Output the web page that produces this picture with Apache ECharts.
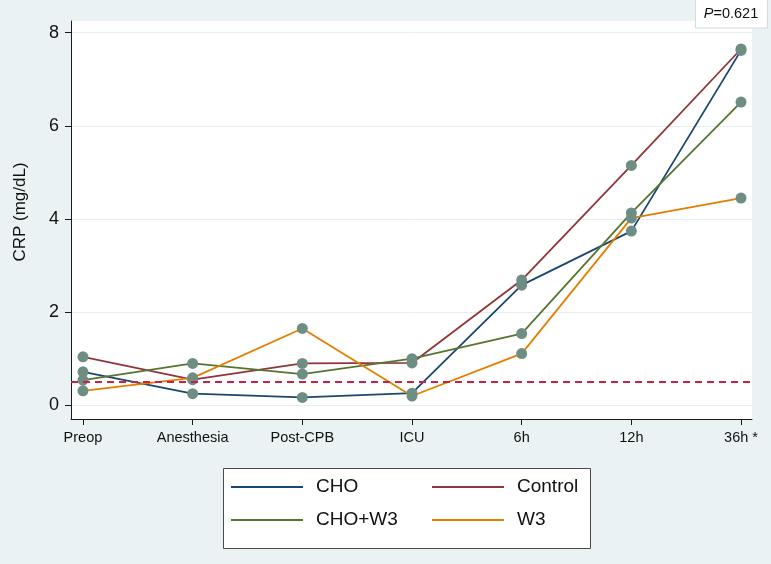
<!DOCTYPE html>
<html><head><meta charset="utf-8">
<script src="https://cdn.jsdelivr.net/npm/echarts@6/dist/echarts.min.js"></script>
<style>html,body{margin:0;padding:0;background:#eaf2f3}#c{width:771px;height:564px}</style>
</head><body><div id="c"></div>
<script>
const categories = ['Preop','Anesthesia','Post-CPB','ICU','6h','12h','36h *'];
const seriesNames = ['CHO','Control','CHO+W3','W3'];
const cho     = [0.72, 0.25, 0.17, 0.26, 2.58, 3.74, 7.62];
const control = [1.04, 0.55, 0.90, 0.91, 2.69, 5.15, 7.65];
const choW3   = [0.54, 0.90, 0.67, 1.00, 1.54, 4.13, 6.51];
const w3      = [0.31, 0.59, 1.65, 0.20, 1.11, 4.02, 4.45];
const yTicks = [0, 2, 4, 6, 8];
const referenceLevel = 0.5;
const pValue = '0.621';

const values = [cho, control, choW3, w3];
const lineColors = ['#1a476f', '#90353b', '#55752f', '#e37e00'];
const markerColor = '#6e8e84';
const font = 'Liberation Sans, Arial, sans-serif';
const xIdx = categories.map((c, i) => i);

const chart = echarts.init(document.getElementById('c'), null, {renderer: 'canvas'});

const series = seriesNames.map((name, k) => ({
  name: name,
  type: 'line',
  data: values[k].map((v, i) => [i, v]),
  symbol: 'circle',
  symbolSize: 11,
  itemStyle: {color: markerColor},
  lineStyle: {color: lineColors[k], width: 1.8},
  emphasis: {disabled: true},
  animation: false,
  z: 3
}));
series[0].markLine = {
  silent: true,
  symbol: ['none', 'none'],
  label: {show: false},
  lineStyle: {color: '#c8224a', type: [7, 5], width: 2},
  data: [{yAxis: referenceLevel}],
  animation: false
};

const legendCommon = {
  orient: 'vertical',
  icon: 'rect',
  itemWidth: 72,
  itemHeight: 2,
  itemGap: 13,
  padding: 0,
  selectedMode: false,
  textStyle: {fontFamily: font, fontSize: 19, color: '#111', lineHeight: 20, padding: [0, 0, 0, 8]}
};

chart.setOption({
  backgroundColor: '#eaf2f3',
  animation: false,
  textStyle: {fontFamily: font},
  grid: {left: 71, right: 19, top: 21, bottom: 145, show: true, backgroundColor: '#ffffff', borderWidth: 0},
  xAxis: {
    type: 'value',
    min: -0.109,
    max: 6.1,
    axisLine: {show: true, onZero: false, lineStyle: {color: '#1a1a1a', width: 1}},
    axisTick: {show: true, length: 6, customValues: xIdx, lineStyle: {color: '#1a1a1a'}},
    axisLabel: {customValues: xIdx, formatter: v => categories[Math.round(v)], fontSize: 14.5, color: '#111', margin: 11, fontFamily: font},
    splitLine: {show: false}
  },
  yAxis: {
    type: 'value',
    min: -0.294,
    max: 8.251,
    name: 'CRP (mg/dL)',
    nameLocation: 'middle',
    nameGap: 42,
    nameTextStyle: {fontSize: 17, color: '#111', fontFamily: font, padding: [0, 0, 0, 16]},
    axisLine: {show: true, onZero: false, lineStyle: {color: '#1a1a1a', width: 1}},
    axisTick: {show: true, length: 6, customValues: yTicks, lineStyle: {color: '#1a1a1a'}},
    axisLabel: {customValues: yTicks, fontSize: 18, color: '#111', margin: 12, fontFamily: font},
    splitLine: {show: true, lineStyle: {color: '#e6eef0', width: 1}}
  },
  legend: [
    Object.assign({}, legendCommon, {left: 231, top: 477, data: [
      {name: 'CHO', itemStyle: {color: lineColors[0]}},
      {name: 'CHO+W3', itemStyle: {color: lineColors[2]}}
    ]}),
    Object.assign({}, legendCommon, {left: 432, top: 477, data: [
      {name: 'Control', itemStyle: {color: lineColors[1]}},
      {name: 'W3', itemStyle: {color: lineColors[3]}}
    ]})
  ],
  graphic: [
    {type: 'rect', z: -1, shape: {x: 223.5, y: 468.5, width: 367, height: 80},
     style: {fill: '#ffffff', stroke: '#4a4a4a', lineWidth: 1}},
    {type: 'rect', z: 10, shape: {x: 695.5, y: -1, width: 72, height: 29},
     style: {fill: '#ffffff', stroke: '#d3dcde', lineWidth: 1}},
    {type: 'text', z: 11, x: 731, y: 14,
     style: {text: '{i|P}=' + pValue, fontFamily: font, fontSize: 14.5, fill: '#111',
       align: 'center', verticalAlign: 'middle',
       rich: {i: {fontStyle: 'italic', fontFamily: font, fontSize: 14.5, fill: '#111'}}}}
  ],
  series: series
});
</script></body></html>
